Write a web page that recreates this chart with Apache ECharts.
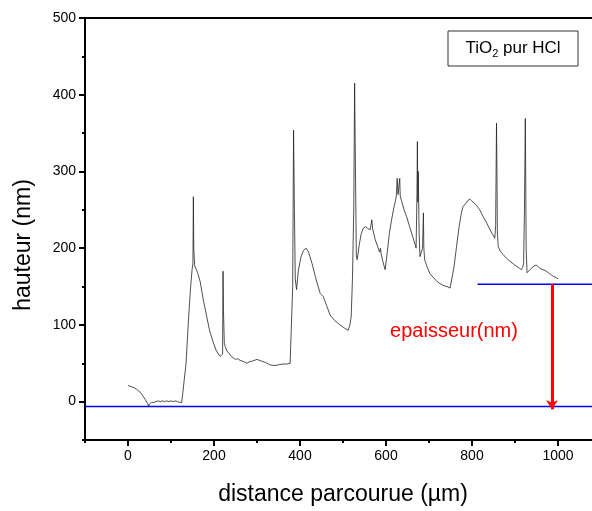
<!DOCTYPE html>
<html>
<head>
  <meta charset="utf-8">
  <script src="https://cdn.jsdelivr.net/npm/echarts@6/dist/echarts.min.js"></script>
</head>
<body style="margin: 0; background: #fff">
  <div id="container" style="width: 592px; height: 511px"></div>
  <script type="text/javascript">
    // profil mesuré : distance (µm) / hauteur (nm)
    var distance = [
      0, 5, 10, 15, 20, 25, 30, 35, 40, 45, 48, 50, 55, 60, 65, 70, 75, 80, 85, 90, 95, 100, 105, 110, 115, 120, 125, 129,
      135, 140, 145, 149, 151, 152, 153, 155, 158, 162, 168, 175, 183, 190, 199, 205, 210, 214, 218, 220, 221, 222, 224, 226,
      230, 235, 240, 245, 250, 255, 260, 265, 270, 276, 282, 290, 300, 310, 320, 330, 340, 350, 360, 370, 377, 381,
      383, 385, 387, 389, 392, 396, 402, 408, 414, 420, 428, 437, 447, 454, 462, 470, 480, 493, 503, 512, 516, 519,
      522, 525, 527, 529, 531, 533, 538, 542, 547, 552, 557, 563, 565, 567, 569, 575, 580, 585, 587, 589, 593, 598,
      603, 608, 613, 618, 622, 624, 626, 628, 630, 632, 633, 636, 642, 648, 655, 662, 667, 670, 672, 673, 674, 675,
      677, 679, 682, 685, 687, 688, 690, 696, 702, 710, 718, 725, 735, 742, 749, 752, 758, 764, 770, 775, 779, 785,
      790, 795, 800, 805, 810, 818, 826, 834, 842, 848, 853, 855, 857, 858, 859, 861, 866, 872, 880, 888, 895, 902,
      910, 915, 918, 920, 922, 924, 926, 928, 930, 935, 940, 945, 950, 955, 960, 965, 970, 975, 980, 985, 990, 995, 1000
    ];
    var hauteur = [
      21, 20, 19, 18, 16, 14, 11, 7, 3, -2, -6, -3, -1, -1, 0, 1, 0, 1, 0, 1, 0, 1, 0, 1, 0, -1, -1, -2,
      50, 100, 145, 172, 180, 267, 200, 177, 175, 168, 156, 133, 111, 92, 76, 67, 62, 59, 57, 62, 170, 120, 76, 72,
      66, 63, 59, 57, 55, 56, 54, 53, 52, 50, 52, 53, 55, 53, 51, 48, 47, 48, 49, 49, 50, 50,
      150, 354, 250, 160, 146, 170, 188, 197, 200, 195, 180, 160, 141, 137, 125, 113, 106, 100, 96, 93, 100, 110,
      160, 250, 415, 300, 190, 185, 205, 218, 226, 228, 226, 224, 230, 237, 225, 211, 203, 195, 200, 192, 182, 172,
      195, 220, 237, 252, 262, 268, 291, 270, 272, 291, 268, 262, 250, 241, 228, 215, 206, 200, 270, 339, 260, 300,
      220, 189, 190, 200, 246, 200, 185, 175, 167, 162, 157, 154, 151, 150, 148, 150, 175, 202, 228, 245, 254, 258,
      262, 264, 261, 259, 256, 250, 241, 233, 224, 218, 213, 230, 363, 300, 220, 202, 196, 192, 187, 183, 180, 177,
      174, 172, 175, 180, 250, 369, 200, 168, 167, 172, 175, 177, 178, 175, 173, 172, 171, 169, 167, 165, 163, 162, 160
    ];

    // lignes de référence et flèche d'épaisseur
    var baseLineX = [-100, 1100];
    var baseLineY = -6.5;
    var filmLineX = [813, 1100];
    var filmLineY = 153;
    var arrowX = 986;

    var xMajor = [0, 200, 400, 600, 800, 1000];
    var yMajor = [0, 100, 200, 300, 400, 500];

    var profile = distance.map(function (d, i) { return [d, hauteur[i]]; });

    var dom = document.getElementById('container');
    var myChart = echarts.init(dom, null, { renderer: 'canvas' });
    var font = 'Liberation Sans, Arial, sans-serif';
    var plain = function (v) { return String(v); };

    var option = {
      animation: false,
      grid: {
        left: 85,
        right: -9,
        top: 18,
        bottom: 71,
        outerBoundsMode: 'none',
        containLabel: false,
        show: true,
        borderColor: '#000',
        borderWidth: 2,
        backgroundColor: 'transparent'
      },
      xAxis: [
        {
          type: 'value',
          min: -100,
          max: 1100,
          interval: 100,
          name: 'distance parcourue (µm)',
          nameLocation: 'middle',
          nameGap: 43,
          nameTextStyle: { fontFamily: font, fontSize: 23, color: '#000' },
          axisLine: { onZero: false, lineStyle: { color: '#000', width: 2 } },
          axisTick: { customValues: xMajor, length: 6, lineStyle: { color: '#000', width: 2 } },
          axisLabel: { customValues: xMajor, formatter: plain, margin: 9, fontFamily: font, fontSize: 14, color: '#000' },
          splitLine: { show: false }
        },
        {
          type: 'value',
          min: -100,
          max: 1100,
          interval: 100,
          position: 'bottom',
          axisLine: { show: false, onZero: false },
          axisTick: { length: 3, lineStyle: { color: '#000', width: 2 } },
          axisLabel: { show: false },
          splitLine: { show: false }
        }
      ],
      yAxis: [
        {
          type: 'value',
          min: -50,
          max: 500,
          interval: 50,
          axisLine: { show: true, onZero: false, lineStyle: { color: '#000', width: 2 } },
          axisTick: { show: true, customValues: yMajor, length: 6, lineStyle: { color: '#000', width: 2 } },
          axisLabel: { customValues: yMajor, formatter: plain, margin: 9, fontFamily: font, fontSize: 14, color: '#000' },
          splitLine: { show: false }
        },
        {
          type: 'value',
          min: -50,
          max: 500,
          interval: 50,
          position: 'left',
          axisLine: { show: false, onZero: false },
          axisTick: { show: true, length: 3, lineStyle: { color: '#000', width: 2 } },
          axisLabel: { show: false },
          splitLine: { show: false }
        }
      ],
      graphic: [
        {
          type: 'text',
          x: 24,
          y: 245,
          rotation: Math.PI / 2,
          style: {
            text: 'hauteur (nm)',
            fontFamily: font,
            fontSize: 23,
            fill: '#000',
            align: 'center',
            verticalAlign: 'middle'
          }
        },
        {
          type: 'rect',
          shape: { x: 448, y: 31, width: 130, height: 35 },
          style: { fill: '#fff', stroke: '#333', lineWidth: 1 }
        },
        {
          type: 'text',
          x: 513,
          y: 48,
          style: {
            text: '{a|TiO}{s|2}{a| pur HCl}',
            align: 'center',
            verticalAlign: 'middle',
            rich: {
              a: { fontFamily: font, fontSize: 17, fill: '#000', lineHeight: 22 },
              s: { fontFamily: font, fontSize: 11, fill: '#000', lineHeight: 22, verticalAlign: 'bottom', padding: [12, 0, 0, 0] }
            }
          }
        },
        {
          type: 'text',
          x: 454,
          y: 331,
          style: {
            text: 'epaisseur(nm)',
            fontFamily: font,
            fontSize: 20,
            fill: '#ff0000',
            align: 'center',
            verticalAlign: 'middle'
          }
        }
      ],
      series: [
        {
          name: 'profil',
          type: 'line',
          data: profile,
          showSymbol: false,
          lineStyle: { color: '#222', width: 0.8 },
          z: 3
        },
        {
          name: 'base',
          type: 'line',
          data: baseLineX.map(function (x) { return [x, baseLineY]; }),
          showSymbol: false,
          lineStyle: { color: '#0000ff', width: 1.5 },
          z: 2
        },
        {
          name: 'film',
          type: 'line',
          data: filmLineX.map(function (x) { return [x, filmLineY]; }),
          showSymbol: false,
          lineStyle: { color: '#0000ff', width: 1.5 },
          z: 2
        },
        {
          name: 'epaisseur',
          type: 'lines',
          coordinateSystem: 'cartesian2d',
          symbol: ['none', 'arrow'],
          symbolSize: 9,
          lineStyle: { color: '#ff0000', width: 3, opacity: 1 },
          data: [{ coords: [[arrowX, filmLineY], [arrowX, -10]] }],
          z: 4
        }
      ]
    };

    myChart.setOption(option);
    window.addEventListener('resize', myChart.resize);
  </script>
</body>
</html>
